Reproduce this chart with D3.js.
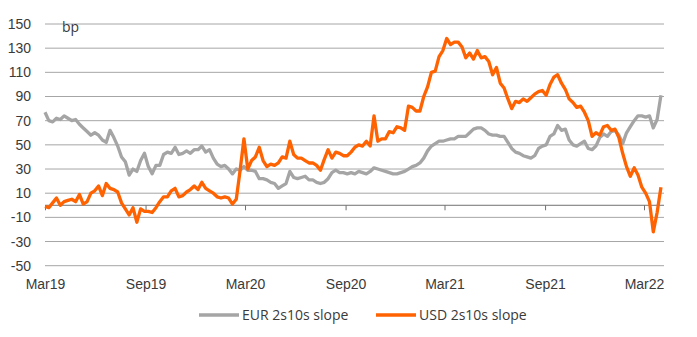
<!DOCTYPE html>
<html>
<head>
<meta charset="utf-8">
<script src="https://cdn.jsdelivr.net/npm/d3@7"></script>
<style>
  html, body { margin: 0; padding: 0; background: #fff; }
  svg { display: block; font-family: "Open Sans", "Lato", sans-serif; }
</style>
</head>
<body>
<svg id="chart" width="697" height="337"></svg>
<script>
// Weekly observations, starting Friday 1 March 2019
const startDate = new Date(2019, 2, 1);

// EUR 2s10s slope, bp
const eurValues = [
  77, 70, 69, 72, 71, 74, 72, 70, 71, 67,
  64, 61, 58, 60, 58, 54, 52, 62, 56, 49,
  40, 36, 25, 30, 28, 37, 43, 32, 26, 33,
  33, 42, 44, 43, 48, 42, 43, 45, 43, 46,
  46, 49, 44, 46, 39, 34, 32, 33, 30, 26,
  30, 29, 32, 29, 29, 28, 22, 22, 21, 19,
  18, 14, 16, 18, 28, 23, 22, 23, 24, 21,
  21, 19, 18, 19, 22, 27, 29, 27, 27, 26,
  27, 26, 28, 27, 26, 28, 31, 30, 29, 28,
  27, 26, 26, 27, 28, 30, 32, 33, 35, 39,
  45, 49, 51, 53, 53, 54, 55, 55, 57, 57,
  57, 60, 63, 64, 64, 62, 59, 58, 58, 57,
  57, 52, 47, 44, 43, 41, 40, 39, 41, 47,
  49, 50, 57, 59, 66, 62, 63, 54, 50, 49,
  51, 53, 47, 46, 49, 56, 59, 57, 61, 62,
  58, 51, 60, 65, 70, 74, 74, 73, 74, 64,
  71, 91
];

// USD 2s10s slope, bp
const usdValues = [
  -1, -2, 2, 6, 0, 3, 4, 5, 3, 9,
  1, 3, 10, 12, 16, 8, 18, 14, 13, 11,
  2, -3, -8, -2, -14, -3, -5, -5, -6, -2,
  3, 7, 7, 12, 14, 7, 8, 11, 13, 16,
  13, 19, 14, 12, 10, 7, 6, 7, 6, 1,
  5, 29, 55, 30, 37, 40, 48, 37, 32, 34,
  33, 35, 40, 39, 53, 42, 39, 39, 37, 35,
  35, 33, 29, 38, 46, 39, 44, 43, 41, 41,
  44, 48, 50, 49, 53, 49, 74, 53, 55, 55,
  61, 60, 65, 64, 62, 82, 81, 78, 78, 90,
  98, 110, 111, 123, 128, 138, 133, 135, 135, 131,
  122, 126, 121, 128, 122, 123, 119, 108, 114, 101,
  97, 88, 80, 86, 85, 88, 86, 89, 92, 94,
  95, 91, 100, 106, 108, 101, 96, 88, 85, 81,
  82, 77, 70, 57, 60, 58, 65, 66, 62, 63,
  56, 43, 32, 24, 31, 25, 15, 10, 3, -22,
  -6, 15
];

const yTicks = [-50, -30, -10, 10, 30, 50, 70, 90, 110, 130, 150];
const xTickDates = [
  new Date(2019, 2, 1), new Date(2019, 8, 1), new Date(2020, 2, 1),
  new Date(2020, 8, 1), new Date(2021, 2, 1), new Date(2021, 8, 1),
  new Date(2022, 2, 1)
];
const seriesNames = ["EUR 2s10s slope", "USD 2s10s slope"];
const seriesColors = ["#a5a5a5", "#ff6200"];

const dates = eurValues.map((_, i) => d3.timeDay.offset(startDate, 7 * i));
const series = [eurValues, usdValues].map((vals, s) => ({
  name: seriesNames[s],
  color: seriesColors[s],
  points: vals.map((v, i) => ({ date: dates[i], value: v }))
}));

const svg = d3.select("#chart");
const x = d3.scaleTime()
  .domain([new Date(2019, 2, 1), new Date(2022, 2, 1)])
  .range([45, 644]);
const y = d3.scaleLinear().domain([-50, 150]).range([265.7, 24]);
const plotRight = 664;
const textColor = "#3a3a3a";

// horizontal gridlines
svg.append("g")
  .selectAll("line")
  .data(yTicks)
  .join("line")
  .attr("x1", 45).attr("x2", plotRight)
  .attr("y1", d => y(d)).attr("y2", d => y(d))
  .attr("stroke", "#a6a6a6")
  .attr("stroke-width", 1);

// y tick labels (plain hyphen for negatives)
const yAxis = d3.axisLeft(y).tickValues(yTicks).tickSize(0).tickPadding(0)
  .tickFormat(d => String(d));
svg.append("g")
  .attr("transform", "translate(31,0)")
  .call(yAxis)
  .call(g => g.select(".domain").remove())
  .call(g => g.selectAll("text")
    .attr("fill", textColor)
    .style("font-size", "14px")
    .style("font-family", "inherit"));

// zero line with tick marks
const zeroAxis = d3.axisBottom(x).tickValues(xTickDates).tickSize(5).tickFormat("");
svg.append("g")
  .attr("transform", `translate(0,${y(0)})`)
  .call(zeroAxis)
  .call(g => g.select(".domain")
    .attr("d", `M45,0H${plotRight}`)
    .attr("stroke", "#707070"))
  .call(g => g.selectAll(".tick line").attr("stroke", "#707070"));

// date labels along the bottom
const dateAxis = d3.axisBottom(x).tickValues(xTickDates).tickSize(0).tickPadding(0)
  .tickFormat(d3.timeFormat("%b%y"));
svg.append("g")
  .attr("transform", "translate(0,279)")
  .call(dateAxis)
  .call(g => g.select(".domain").remove())
  .call(g => g.selectAll("text")
    .attr("fill", textColor)
    .style("font-size", "14px")
    .style("font-family", "inherit"));

// unit label
svg.append("text")
  .attr("x", 62).attr("y", 32)
  .attr("fill", textColor)
  .style("font-size", "14px")
  .text("bp");

// series lines
const line = d3.line().x(d => x(d.date)).y(d => y(d.value));
svg.append("g")
  .selectAll("path")
  .data(series)
  .join("path")
  .attr("d", d => line(d.points))
  .attr("fill", "none")
  .attr("stroke", d => d.color)
  .attr("stroke-width", 3.3)
  .attr("stroke-linejoin", "round");

// legend
const legendX = [199, 376];
const legend = svg.append("g")
  .selectAll("g")
  .data(series)
  .join("g")
  .attr("transform", (d, i) => `translate(${legendX[i]},315)`);
legend.append("line")
  .attr("x1", 0).attr("x2", 40)
  .attr("stroke", d => d.color)
  .attr("stroke-width", 3.3);
legend.append("text")
  .attr("x", 43).attr("y", 5)
  .attr("fill", textColor)
  .style("font-size", "14px")
  .text(d => d.name);
</script>
</body>
</html>
